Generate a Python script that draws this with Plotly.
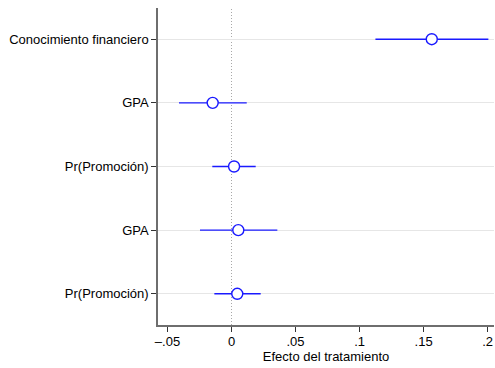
import plotly.graph_objects as go

labels = ["Conocimiento financiero", "GPA", "Pr(Promoción)", "GPA", "Pr(Promoción)"]
positions = [1, 2, 3, 4, 5]
estimates = [0.1564, -0.0147, 0.0020, 0.0053, 0.0045]
ci_low = [0.1124, -0.0410, -0.0150, -0.0246, -0.0134]
ci_high = [0.2006, 0.0119, 0.0189, 0.0358, 0.0228]
xtick_vals = [-0.05, 0, 0.05, 0.1, 0.15, 0.2]
xtick_text = ["\u2013.05", "0", ".05", ".1", ".15", ".2"]

BLUE = "#1a1aff"
FONT = "Liberation Sans, Arial, sans-serif"

fig = go.Figure()

for lo, hi, p in zip(ci_low, ci_high, positions):
    fig.add_trace(go.Scatter(x=[lo, hi], y=[p, p], mode="lines",
                             line=dict(color=BLUE, width=1.4),
                             showlegend=False, hoverinfo="skip"))

fig.add_trace(go.Scatter(x=estimates, y=positions, mode="markers",
                         marker=dict(symbol="circle", size=11, color="white",
                                     line=dict(color=BLUE, width=1.4)),
                         showlegend=False))

fig.add_shape(type="line", xref="x", yref="paper", x0=0, x1=0, y0=0, y1=1,
              line=dict(color="#a8a8a8", width=1, dash="1px,2px"), layer="below")

fig.update_layout(
    width=495, height=368,
    margin=dict(l=158, r=1, t=8, b=43),
    paper_bgcolor="white", plot_bgcolor="white",
    font=dict(family=FONT, size=13, color="black"),
    xaxis=dict(range=[-0.0574, 0.205], tickvals=xtick_vals, ticktext=xtick_text,
               showgrid=False, zeroline=False, showline=True, linecolor="#6e6e6e",
               linewidth=1.5, ticks="outside", ticklen=5, tickcolor="#333333",
               tickfont=dict(size=13), ticklabelstandoff=-1,
               title=dict(text="Efecto del tratamiento", font=dict(size=13), standoff=0)),
    yaxis=dict(range=[5.49, 0.51], tickvals=positions, ticktext=labels,
               showgrid=True, gridcolor="#e6e6e6", gridwidth=1.3, zeroline=False,
               showline=True, linecolor="#6e6e6e", linewidth=1.5,
               ticks="outside", ticklen=5, tickcolor="#333333",
               tickfont=dict(size=13)),
)

fig.write_html("out.html")
